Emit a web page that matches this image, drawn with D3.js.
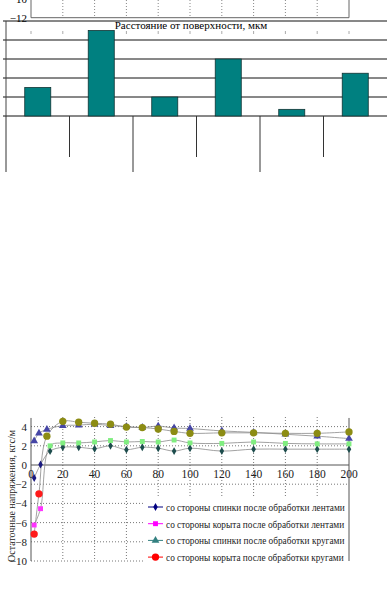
<!doctype html>
<html lang="ru">
<head>
<meta charset="utf-8">
<title>Остаточные напряжения</title>
<style>
  body { margin: 0; background: #ffffff; }
  svg { display: block; }
</style>
</head>
<body>
<script src="https://d3js.org/d3.v7.min.js"></script>
<script>
// размеры окна
var w = 387, h = 593;

// ---- данные ----
// обрывок верхнего графика
var topYTicks = [-12, -10];
var depthTicks = [0, 20, 40, 60, 80, 100, 120, 140, 160, 180, 200];

// столбчатая диаграмма (подписи категорий на снимке не видны)
var barCategories = ["1", "2", "3", "4", "5", "6"];
var barValues = [1.5, 4.5, 1.0, 3.0, 0.35, 2.25];
var barTicks = [0, 1, 2, 3, 4, 5];

// нижний график: глубина, мкм и напряжения, кгс/мм2
var depthsBackTape = [2, 6, 12, 20, 30, 40, 50, 60, 70, 80, 90, 100, 120, 140, 160, 180, 200];
var backTape = [-1.35, 0.05, 1.45, 1.85, 1.85, 1.7, 2.0, 1.6, 1.85, 1.75, 1.45, 1.75, 1.45, 1.65, 1.65, 1.65, 1.65];
var depthsTroughTape = [2, 6, 12, 20, 30, 40, 50, 60, 70, 80, 90, 100, 120, 140, 160, 180, 200];
var troughTape = [-6.25, -4.55, 2.0, 2.3, 2.3, 2.4, 2.55, 2.4, 2.45, 2.4, 2.6, 2.3, 2.25, 2.4, 2.25, 2.2, 2.2];
var depthsBackWheel = [2, 5, 10, 20, 30, 40, 50, 60, 70, 80, 90, 100, 120, 140, 160, 180, 200];
var backWheel = [2.5, 3.3, 3.7, 4.1, 4.15, 4.25, 4.1, 4.0, 3.9, 4.05, 3.85, 3.8, 3.55, 3.4, 3.2, 3.0, 2.75];
var depthsTroughWheel = [2, 5, 10, 20, 30, 40, 50, 60, 70, 80, 90, 100, 120, 140, 160, 180, 200];
var troughWheel = [-7.2, -3.0, 3.0, 4.55, 4.45, 4.35, 4.25, 3.95, 3.9, 3.75, 3.5, 3.3, 3.35, 3.35, 3.3, 3.3, 3.45];
var stressTicks = [-10, -8, -6, -4, -2, 0, 2, 4];
var seriesNames = [
  "со стороны спинки после обработки лентами",
  "со стороны корыта после обработки лентами",
  "со стороны спинки после обработки кругами",
  "со стороны корыта после обработки кругами"
];

// стиль серий (цвет в легенде, цвет первых точек, цвет остальных точек)
var styles = [
  {symbol: d3.symbolDiamond, size: 18, legend: "#000080", early: "#1a1a80", late: "#1d4d4d"},
  {symbol: d3.symbolSquare, size: 24, legend: "#ff00ff", early: "#ff33ff", late: "#80ee80"},
  {symbol: d3.symbolTriangle, size: 26, legend: "#338080", early: "#4646a6", late: "#4646a6"},
  {symbol: d3.symbolCircle, size: 42, legend: "#ff0000", early: "#ff1a1a", late: "#8c8c14"}
];

var series = [
  d3.zip(depthsBackTape, backTape),
  d3.zip(depthsTroughTape, troughTape),
  d3.zip(depthsBackWheel, backWheel),
  d3.zip(depthsTroughWheel, troughWheel)
];

var serif = "'Liberation Serif', 'Times New Roman', 'DejaVu Serif', serif";

var svg = d3.select("body").append("svg")
  .attr("width", w)
  .attr("height", h)
  .attr("font-family", serif);

// ---- обрывок верхнего графика ----
var xDepth = d3.scaleLinear().domain([0, 200]).range([31, 349]);
var yTop = d3.scaleLinear().domain([-12, -10]).range([17.7, -1.5]);

var topG = svg.append("g");
topG.selectAll("line.grid")
  .data(depthTicks.slice(1, -1))
  .enter().append("line")
  .attr("x1", d => xDepth(d)).attr("x2", d => xDepth(d))
  .attr("y1", 0).attr("y2", yTop(-12))
  .attr("stroke", "#888").attr("stroke-dasharray", "1,2");
topG.append("path")
  .attr("d", "M" + xDepth(0) + ",0V" + yTop(-12) + "H" + xDepth(200) + "V0")
  .attr("fill", "none").attr("stroke", "#666");
topG.selectAll("text")
  .data(topYTicks)
  .enter().append("text")
  .attr("x", 27).attr("y", d => yTop(d) + 4)
  .attr("text-anchor", "end")
  .attr("font-size", 11)
  .text(d => "\u2212" + Math.abs(d));
topG.selectAll("line.tick")
  .data(depthTicks)
  .enter().append("line")
  .attr("x1", d => xDepth(d)).attr("x2", d => xDepth(d))
  .attr("y1", 31).attr("y2", 34)
  .attr("stroke", "#aaa");

// ---- столбчатая диаграмма ----
var xBar = d3.scaleBand().domain(barCategories).range([6, 387]).paddingInner(0.59).paddingOuter(0.295);
var yBar = d3.scaleLinear().domain([0, 5]).range([116, 21]);

var barG = svg.append("g");
barG.selectAll("line.grid")
  .data(barTicks)
  .enter().append("line")
  .attr("x1", 3).attr("x2", w)
  .attr("y1", d => yBar(d)).attr("y2", d => yBar(d))
  .attr("stroke", "#111").attr("stroke-width", 1);
barG.append("line")
  .attr("x1", 6).attr("x2", 6)
  .attr("y1", yBar(5)).attr("y2", yBar(0))
  .attr("stroke", "#444");

svg.append("text")
  .attr("x", 191).attr("y", 29)
  .attr("text-anchor", "middle")
  .attr("font-size", 11)
  .text("Расстояние от поверхности, мкм");

barG.selectAll("rect")
  .data(barValues)
  .enter().append("rect")
  .attr("x", (d, i) => xBar(barCategories[i]))
  .attr("y", d => yBar(d))
  .attr("width", xBar.bandwidth())
  .attr("height", d => yBar(0) - yBar(d))
  .attr("fill", "#008080")
  .attr("stroke", "#113333").attr("stroke-width", 0.8);

// разделители категорий (две группы уровней)
var step = xBar.step();
barG.selectAll("line.sep")
  .data(barCategories)
  .enter().append("line")
  .attr("x1", (d, i) => 6 + i * step).attr("x2", (d, i) => 6 + i * step)
  .attr("y1", yBar(0))
  .attr("y2", (d, i) => i % 2 === 0 ? 172 : 157)
  .attr("stroke", "#333");

// ---- нижний график ----
var yStress = d3.scaleLinear().domain([-10, 5]).range([561, 417]);
var lineG = svg.append("g");

// сетка
lineG.selectAll("line.hgrid")
  .data(stressTicks.filter(d => d !== 0))
  .enter().append("line")
  .attr("x1", xDepth(0)).attr("x2", xDepth(200))
  .attr("y1", d => yStress(d)).attr("y2", d => yStress(d))
  .attr("stroke", "#777").attr("stroke-dasharray", "1,2");
lineG.selectAll("line.vgrid")
  .data(depthTicks.slice(1, -1))
  .enter().append("line")
  .attr("x1", d => xDepth(d)).attr("x2", d => xDepth(d))
  .attr("y1", yStress(5)).attr("y2", yStress(-10))
  .attr("stroke", "#777").attr("stroke-dasharray", "1,2");

// оси
lineG.append("line")
  .attr("x1", xDepth(0)).attr("x2", xDepth(200))
  .attr("y1", yStress(0)).attr("y2", yStress(0))
  .attr("stroke", "#555");
lineG.append("line")
  .attr("x1", xDepth(0)).attr("x2", xDepth(0))
  .attr("y1", yStress(4.9)).attr("y2", yStress(-10))
  .attr("stroke", "#555");
lineG.append("line")
  .attr("x1", xDepth(200)).attr("x2", xDepth(200))
  .attr("y1", yStress(4.9)).attr("y2", yStress(-10))
  .attr("stroke", "#555");

lineG.selectAll("text.ytick")
  .data(stressTicks)
  .enter().append("text")
  .attr("x", 27).attr("y", d => yStress(d) + 4)
  .attr("text-anchor", "end")
  .attr("font-size", 11)
  .attr("fill", "#222")
  .text(d => d < 0 ? "\u2212" + Math.abs(d) : d);
lineG.selectAll("text.xtick")
  .data(depthTicks)
  .enter().append("text")
  .attr("x", d => xDepth(d)).attr("y", yStress(0) + 13)
  .attr("text-anchor", "middle")
  .attr("font-size", 11.5)
  .attr("fill", "#222")
  .text(d => d);

svg.append("text")
  .attr("transform", "translate(15,562) rotate(-90)")
  .attr("font-size", 10)
  .attr("fill", "#222")
  .text("Остаточные напряжения, кгс/м");

// линии серий
var line = d3.line()
  .x(d => xDepth(d[0]))
  .y(d => yStress(d[1]))
  .curve(d3.curveCatmullRom);

lineG.selectAll("path.series")
  .data(series)
  .enter().append("path")
  .attr("d", line)
  .attr("fill", "none")
  .attr("stroke", "#8a8a8a")
  .attr("stroke-width", 0.8);

// маркеры
series.forEach(function(s, k) {
  var st = styles[k];
  lineG.selectAll("path.m" + k)
    .data(s)
    .enter().append("path")
    .attr("transform", d => "translate(" + xDepth(d[0]) + "," + yStress(d[1]) + ")")
    .attr("d", d3.symbol().type(st.symbol).size(st.size))
    .attr("fill", (d, i) => i < 2 ? st.early : st.late);
});

// легенда
var legG = svg.append("g");
legG.append("rect")
  .attr("x", 145).attr("y", 498)
  .attr("width", 203).attr("height", 65)
  .attr("fill", "#fff");
var leg = legG.selectAll("g")
  .data(seriesNames)
  .enter().append("g")
  .attr("transform", (d, i) => "translate(148," + (507 + i * 16.7) + ")");
leg.append("line")
  .attr("x1", 0).attr("x2", 15)
  .attr("stroke", (d, i) => styles[i].legend).attr("stroke-width", 1);
leg.append("path")
  .attr("transform", "translate(7.5,0)")
  .attr("d", (d, i) => d3.symbol().type(styles[i].symbol).size(styles[i].size)())
  .attr("fill", (d, i) => styles[i].legend);
leg.append("text")
  .attr("x", 18).attr("y", 4)
  .attr("font-size", 9.3)
  .attr("fill", "#222")
  .text(d => d);
</script>
</body>
</html>
